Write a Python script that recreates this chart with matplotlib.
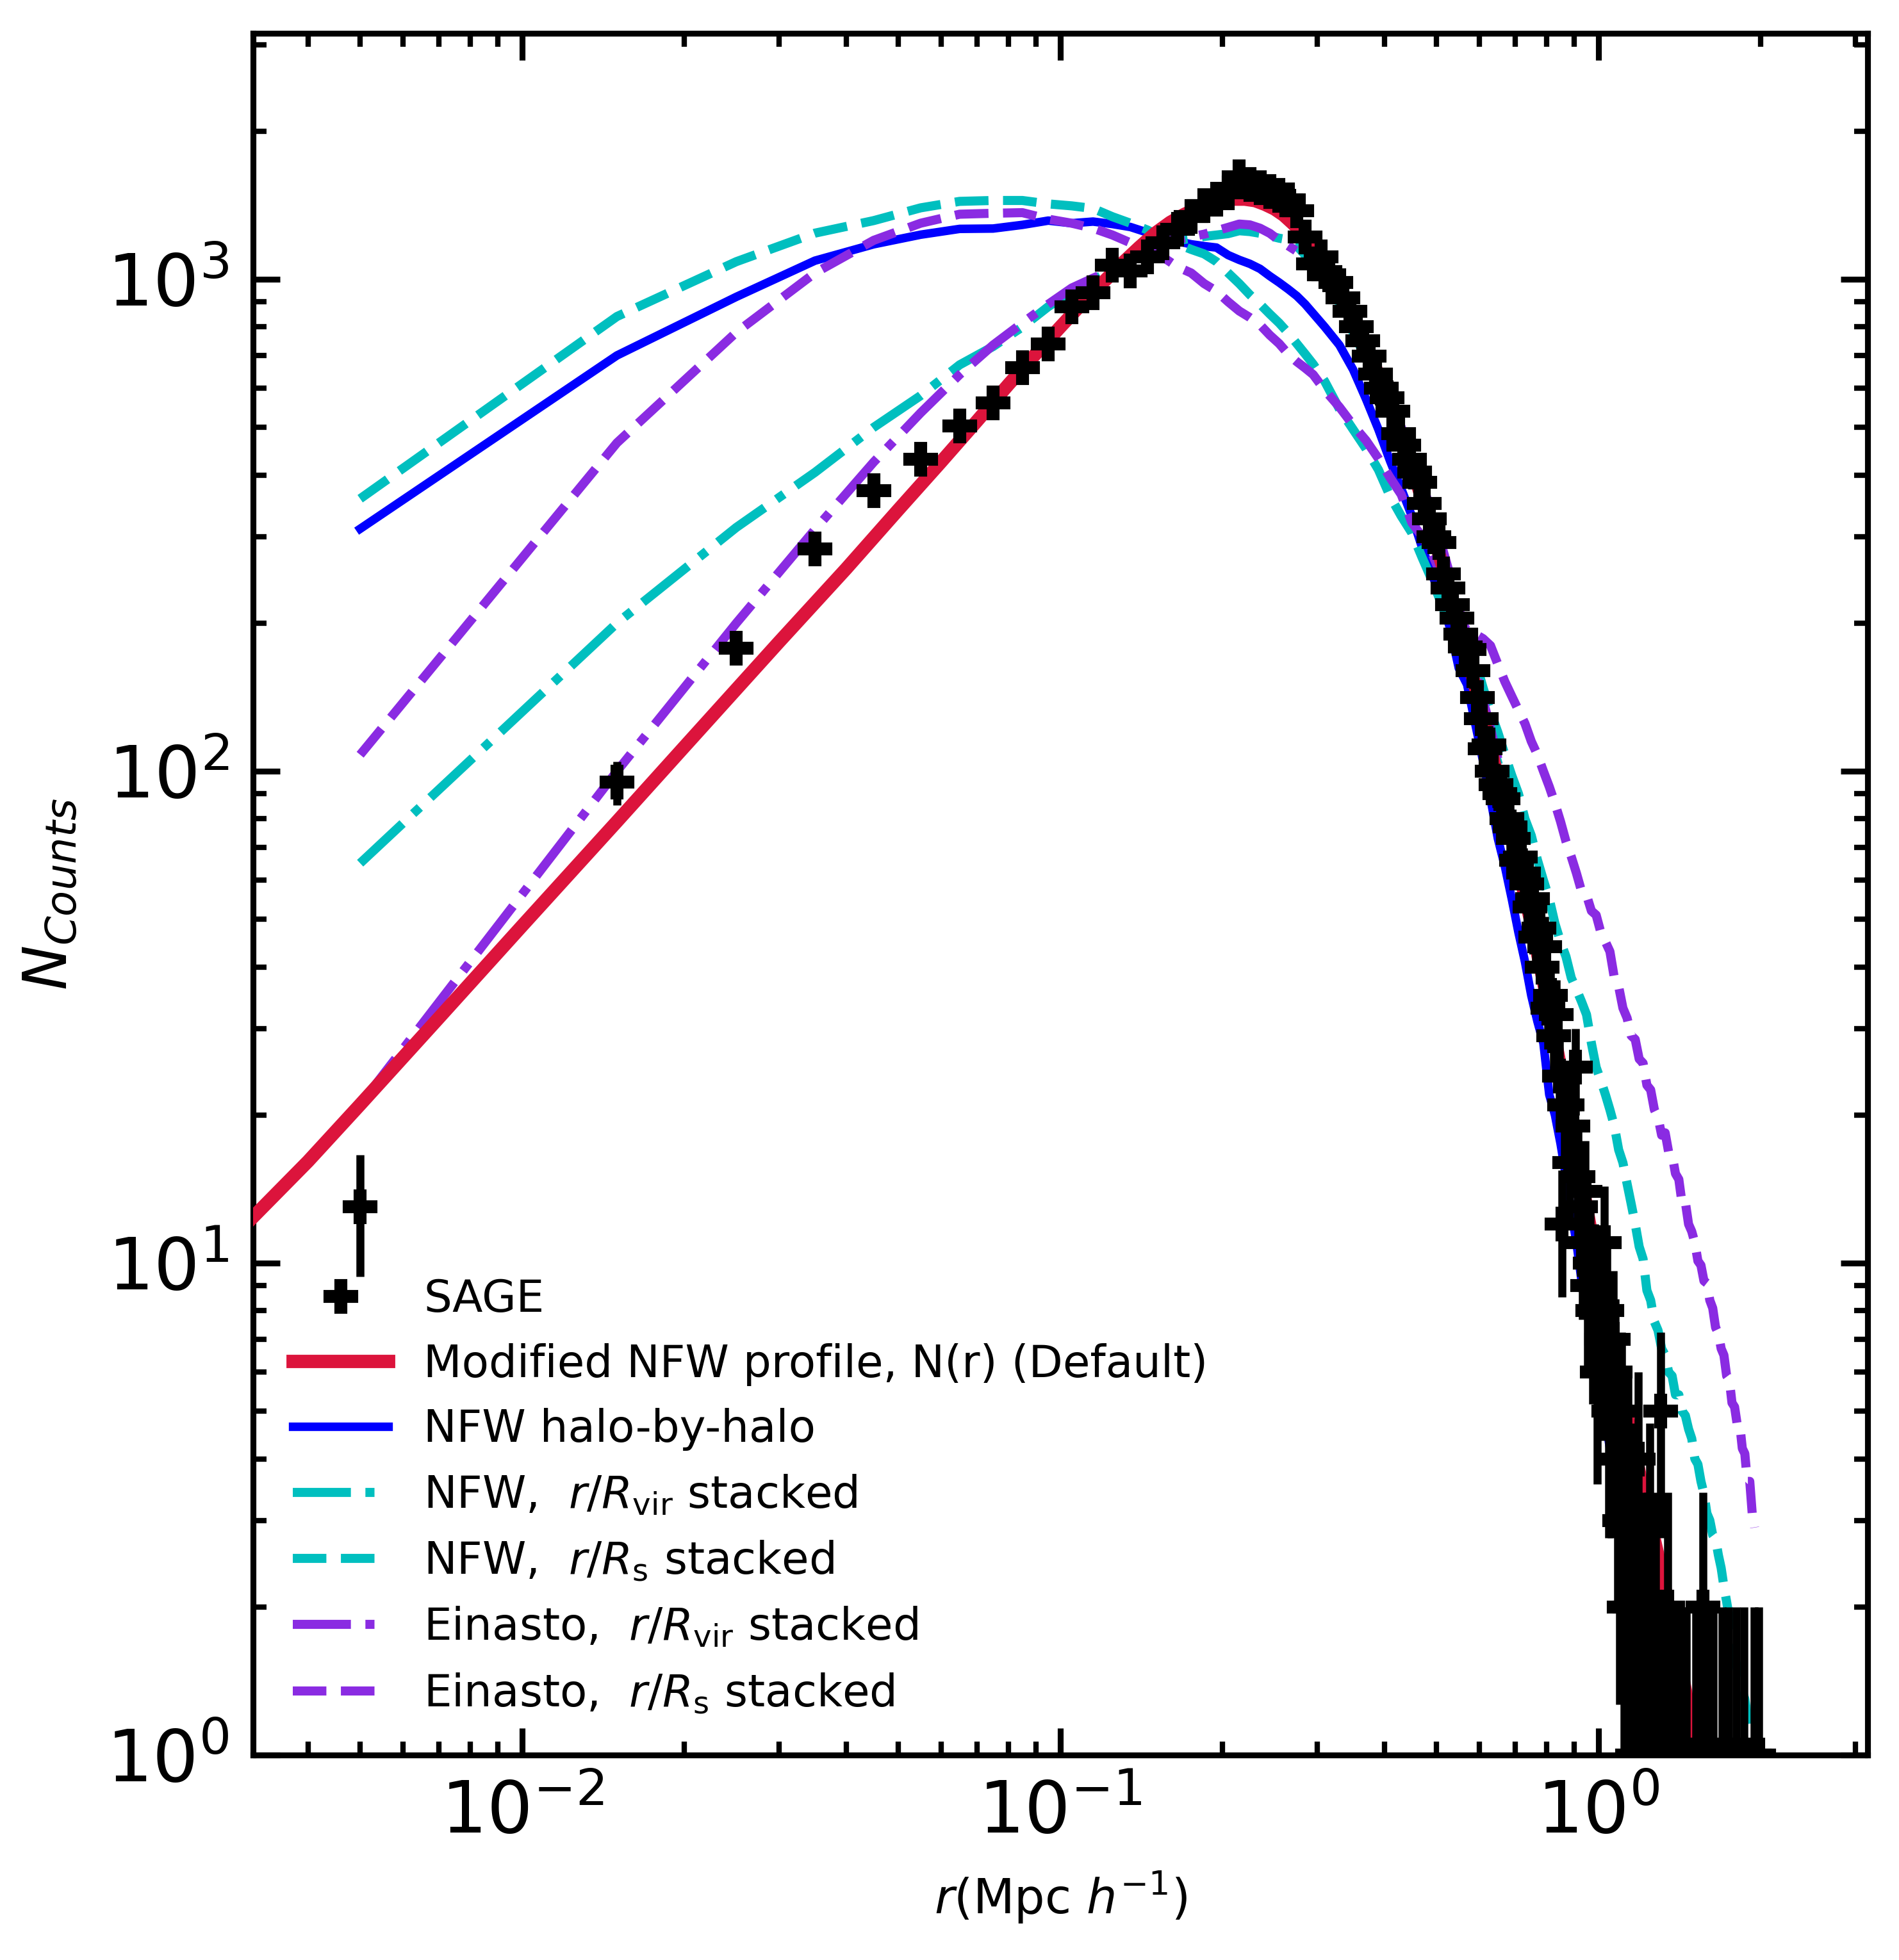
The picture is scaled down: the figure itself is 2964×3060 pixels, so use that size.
import numpy as np
import matplotlib
matplotlib.use("Agg")
import matplotlib.pyplot as plt
from matplotlib.lines import Line2D

# ---------------- data ----------------
# SAGE histogram (bin centres, counts)
r_sage = [0.005, 0.015, 0.025, 0.035, 0.045, 0.055, 0.065, 0.075, 0.085, 0.095,
          0.105, 0.115, 0.125, 0.135, 0.145, 0.155, 0.165, 0.175, 0.185, 0.195,
          0.205, 0.215, 0.225, 0.235, 0.245, 0.255, 0.265, 0.275, 0.285, 0.295,
          0.305, 0.315, 0.325, 0.335, 0.345, 0.355, 0.365, 0.375, 0.385, 0.395,
          0.405, 0.415, 0.425, 0.435, 0.445, 0.455, 0.465, 0.475, 0.485, 0.495,
          0.505, 0.515, 0.525, 0.535, 0.545, 0.555, 0.565, 0.575, 0.585, 0.595,
          0.605, 0.615, 0.625, 0.635, 0.645, 0.655, 0.665, 0.675, 0.685, 0.695,
          0.705, 0.715, 0.725, 0.735, 0.745, 0.755, 0.765, 0.775, 0.785, 0.795,
          0.805, 0.815, 0.825, 0.835, 0.845, 0.855, 0.865, 0.875, 0.885, 0.895,
          0.905, 0.915, 0.925, 0.935, 0.945, 0.955, 0.965, 0.975, 0.985, 0.995,
          1.005, 1.015, 1.025, 1.035, 1.045, 1.055, 1.065, 1.075, 1.085, 1.095,
          1.105, 1.115, 1.125, 1.135, 1.145, 1.155, 1.165, 1.175, 1.185, 1.195,
          1.205, 1.215, 1.235, 1.245, 1.255, 1.265, 1.275, 1.295, 1.305, 1.325,
          1.345, 1.375, 1.395, 1.425, 1.455, 1.515, 1.565, 1.585, 1.635, 1.695,
          1.745, 1.805, 1.865, 1.945, 1.985]
n_sage = [13, 95, 178, 283, 372, 430, 503, 560, 662, 738,
          879, 938, 1067, 1039, 1110, 1185, 1265, 1340, 1410, 1455,
          1500, 1615, 1560, 1535, 1510, 1480, 1450, 1380, 1220, 1075,
          1110, 1020, 985, 918, 860, 800, 750, 697, 641, 600,
          575, 540, 485, 460, 430, 405, 387, 350, 326, 300,
          292, 252, 236, 218, 205, 190, 179, 177, 160, 141,
          128, 111, 113, 100, 94, 90, 88, 80, 77, 73,
          66, 67, 62, 59, 53, 55, 46, 48, 40, 44,
          33, 35, 29, 32, 24, 12, 21, 21, 16, 19,
          25, 15, 13, 11, 14, 9, 10, 8, 9, 6,
          8, 7, 11, 8, 5, 5, 7, 6, 4, 3,
          5, 2, 3, 4, 2, 1, 3, 2, 4, 1,
          2, 1, 2, 3, 1, 1, 2, 1, 5, 1,
          2, 1, 1, 1, 1, 1, 2, 1, 1, 1,
          1, 1, 1, 1, 1]

# Modified NFW profile N(r) (Default)
r_red = [0.003, 0.004, 0.005, 0.007, 0.01, 0.015, 0.02, 0.03, 0.04, 0.05,
         0.06, 0.07, 0.08, 0.09, 0.10, 0.11, 0.12, 0.13, 0.14, 0.15,
         0.16, 0.17, 0.18, 0.19, 0.20, 0.21, 0.22, 0.23, 0.24, 0.25,
         0.26, 0.27, 0.28, 0.29, 0.30, 0.32, 0.34, 0.36, 0.38, 0.40,
         0.42, 0.44, 0.46, 0.48, 0.50, 0.53, 0.56, 0.60, 0.65, 0.70,
         0.75, 0.80, 0.85, 0.90, 0.95, 1.00, 1.05, 1.10, 1.15, 1.20,
         1.25, 1.30, 1.35, 1.40, 1.45, 1.50, 1.55, 1.60]
n_red = [11.7, 16.1, 21.0, 31.5, 48.5, 79, 112, 183, 258, 340,
         425, 515, 610, 705, 800, 895, 985, 1075, 1160, 1240,
         1305, 1355, 1395, 1425, 1445, 1455, 1455, 1445, 1420, 1390,
         1350, 1300, 1250, 1190, 1130, 1010, 895, 785, 685, 595,
         515, 445, 385, 332, 287, 232, 186, 138, 97, 68,
         49, 35, 25, 18, 13, 9.5, 7.2, 5.6, 4.5, 3.6,
         2.95, 2.45, 2.0, 1.65, 1.35, 1.12, 0.93, 0.78]

# common radial grid of the stacked / halo-by-halo model curves
r_mod = np.round(np.concatenate([np.arange(0.005, 0.30, 0.01),
                                 np.arange(0.31, 1.96, 0.02)]), 3)

n_nfw_hbh = [311, 700, 921, 1091, 1178, 1232, 1266, 1268, 1290, 1316,
             1300, 1310, 1295, 1277, 1245, 1212, 1195, 1178, 1168, 1160,
             1120, 1095, 1075, 1050, 1015, 985, 955, 925, 890, 852,
             800, 735, 655, 570, 495, 427, 375, 330, 285, 252,
             225, 195, 162, 150, 125, 105, 88, 73, 64, 55,
             47, 41, 35, 31, 28, 22, 20, 17.5, 15, 12.7,
             11, 9.2, 8.2, 7.2, 6.2, 5.6, 4.8, 4.2, 3.6, 2.8,
             2.1, 1.7, 1.5, 1.3, 1.1, 0.95]

n_nfw_rvir = [65, 200, 313, 405, 500, 580, 670, 730, 800, 880,
              945, 997, 1045, 1095, 1150, 1190, 1200, 1210, 1222, 1230,
              1238, 1255, 1250, 1240, 1225, 1212, 1203, 1170, 1120, 1070,
              990, 880, 780, 690, 610, 535, 470, 410, 355, 310,
              270, 235, 205, 178, 152, 135, 118, 104, 92, 80,
              70, 60, 52, 46, 40, 34, 30, 25, 22, 19,
              16, 14, 12, 10.5, 9, 7.8, 6.6, 5.6, 4.6, 3.8,
              3.0, 2.6, 2.2, 2.0, 1.8, 1.75, 1.4, 1.2, 1.05, 0.9]

n_nfw_rs = [358, 840, 1086, 1241, 1316, 1397, 1440, 1446, 1446, 1423,
            1410, 1393, 1340, 1300, 1260, 1215, 1180, 1150, 1126, 1086,
            1030, 980, 930, 890, 850, 815, 778, 740, 705, 672,
            620, 545, 495, 452, 410, 362, 330, 305, 272, 245,
            220, 196, 182, 170, 168, 148, 132, 120, 108, 98,
            90, 80, 74, 66, 60, 55, 49, 45, 42, 38,
            36, 34, 32, 28, 25, 23.5, 22, 20.5, 19, 17,
            16, 14.5, 13.2, 12, 10.8, 10.2, 8.8, 8.4, 7.6, 7.3,
            6.7, 6.5, 6.0, 5.9, 5.4, 5.4, 5.0, 4.9, 4.6, 4.4,
            4.0, 3.9, 3.6, 3.4, 3.1, 3.0, 2.8, 2.75, 2.55, 2.4,
            2.2, 2.05, 1.9, 1.75, 1.6, 1.5, 1.45, 1.35, 1.3, 1.2,
            1.1, 1.0, 0.9]

n_ein_rvir = [21, 100, 200, 310, 425, 535, 640, 735, 815, 890,
              960, 1005, 1045, 1100, 1165, 1195, 1205, 1220, 1235, 1255,
              1275, 1295, 1290, 1270, 1240, 1200, 1170, 1140, 1100, 1060,
              1010, 910, 810, 720, 635, 565, 500, 440, 385, 335,
              290, 250, 215, 185, 160, 140, 122, 106, 92, 80,
              69, 60, 52, 45, 39, 33, 28, 24, 20, 17,
              14.5, 12.3, 10.5, 9, 7.8, 6.8, 5.8, 5.0, 4.5, 4.2,
              3.9, 3.5, 3.1, 2.8, 2.6, 2.2, 1.8, 1.4, 1.1, 0.9]

n_ein_rs = [108, 465, 780, 1030, 1200, 1300, 1356, 1362, 1366, 1325,
            1300, 1270, 1230, 1186, 1150, 1110, 1060, 1030, 980, 946,
            900, 862, 836, 808, 770, 740, 705, 680, 660, 640,
            595, 550, 505, 470, 432, 395, 365, 320, 300, 278,
            250, 225, 205, 193, 190, 186, 180, 165, 152, 142,
            133, 125, 115, 108, 100, 93, 86, 79, 72, 67,
            62, 57, 56, 52, 51, 47, 45, 43, 38, 36.5,
            33, 31.5, 29, 28.5, 26, 25.5, 23, 22.5, 20.5, 19.8,
            18.2, 18.4, 16.8, 16.6, 15.2, 14.8, 13.2, 13.3, 12, 11.6,
            11, 10.1, 9.9, 9.2, 9.1, 8.4, 8.1, 7.4, 7.2, 6.7,
            6.5, 5.9, 5.8, 5.2, 5.1, 4.7, 4.7, 4.2, 4.1, 3.6,
            3.6, 3.1, 2.9]

labels = ["SAGE",
          "Modified NFW profile, N(r) (Default)",
          "NFW halo-by-halo",
          r"NFW, $\ r/R_{\rm vir}$ stacked",
          r"NFW, $\ r/R_{\rm s}$ stacked",
          r"Einasto, $\ r/R_{\rm vir}$ stacked",
          r"Einasto, $\ r/R_{\rm s}$ stacked"]

# ---------------- figure ----------------
W, H = 2964, 3060
fig = plt.figure(figsize=(W / 300, H / 300), dpi=300)
ax = fig.add_axes([395 / W, 1 - 2740 / H, (2915 - 395) / W, (2740 - 52) / H])
ax.set_xscale("log")
ax.set_yscale("log")

lw_mod = 3.4
l_blue, = ax.plot(r_mod[:len(n_nfw_hbh)], n_nfw_hbh, color="blue", lw=3.2, ls="-")
l_cdd, = ax.plot(r_mod[:len(n_nfw_rvir)], n_nfw_rvir, color="c", lw=lw_mod, ls="-.")
l_cda, = ax.plot(r_mod[:len(n_nfw_rs)], n_nfw_rs, color="c", lw=lw_mod, ls="--")
l_pdd, = ax.plot(r_mod[:len(n_ein_rvir)], n_ein_rvir, color="blueviolet", lw=lw_mod, ls="-.")
l_pda, = ax.plot(r_mod[:len(n_ein_rs)], n_ein_rs, color="blueviolet", lw=lw_mod, ls="--")
l_red, = ax.plot(r_red, n_red, color="crimson", lw=5.0, ls="-", zorder=3)

n_arr = np.array(n_sage, dtype=float)
ax.errorbar(r_sage, n_sage, yerr=np.sqrt(n_arr), fmt="P", color="k", ms=12,
            elinewidth=3, capsize=0, zorder=5)

ax.set_xlim(10 ** -2.5, 10 ** 0.5)
ax.set_ylim(1, 10 ** 3.5)

ax.tick_params(which="both", direction="in", top=True, right=True,
               labelsize=27, pad=9)
ax.tick_params(which="major", length=10, width=2.2)
ax.tick_params(which="minor", length=5, width=2.0)
for s in ax.spines.values():
    s.set_linewidth(2.2)

ax.set_xlabel(r"$r$(Mpc $h^{-1}$)", fontsize=18, labelpad=8)
ax.set_ylabel(r"$N_{Counts}$", fontsize=22.5, labelpad=10)

h_sage = Line2D([], [], marker="P", ls="none", color="k", ms=12)
ax.legend([h_sage, l_red, l_blue, l_cdd, l_cda, l_pdd, l_pda], labels,
          loc="lower left", frameon=False, fontsize=16.6, handlelength=2.15,
          labelspacing=0.5, numpoints=1)

fig.savefig("out.png", dpi=300)
